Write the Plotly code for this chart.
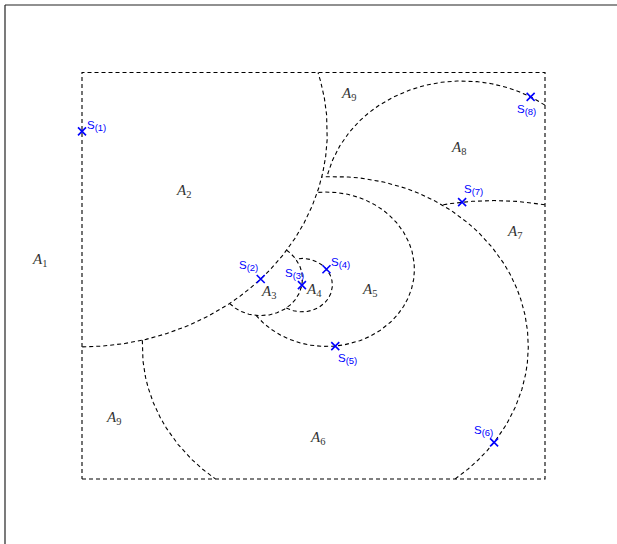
import numpy as np
import plotly.graph_objects as go

# Ordered sample points S_(1) ... S_(8) in the unit square
s_x = [0.000, 0.386, 0.475, 0.528, 0.547, 0.890, 0.821, 0.969]
s_y = [0.855, 0.492, 0.477, 0.516, 0.327, 0.090, 0.681, 0.940]
s_labels = ["S<sub><span style='font-size:9.5px'>(%d)</span></sub>" % (i + 1)
            for i in range(len(s_x))]

# Region labels A_1 ... A_9 (A_9 appears twice)
region_labels = ["A1", "A2", "A3", "A4", "A5", "A6", "A7", "A8", "A9", "A9"]
region_x = [-0.091, 0.220, 0.402, 0.502, 0.620, 0.508, 0.935, 0.814, 0.575, 0.069]
region_y = [0.539, 0.708, 0.460, 0.465, 0.465, 0.101, 0.608, 0.814, 0.948, 0.150]

# pixel offsets for the point labels: (xanchor, xshift, yshift)
label_offsets = [
    ("left", 3, 5),
    ("right", -1, 13),
    ("center", -7, 11),
    ("left", 3, 6),
    ("left", 1, -13),
    ("right", 1, 11),
    ("left", 0, 12),
    ("center", -4, -13),
]

DASH = "4px,3px"
fig = go.Figure()

# unit square
fig.add_trace(go.Scatter(
    x=[0, 1, 1, 0, 0], y=[0, 0, 1, 1, 0], mode="lines",
    line=dict(color="black", width=1.1, dash=DASH), hoverinfo="skip"))

# circle k: centred at S_(k), passing through S_(k+1); drawn only inside the
# square and outside all earlier disks
px_ = np.array(s_x)
py_ = np.array(s_y)
radii = np.hypot(np.diff(px_), np.diff(py_))
theta = np.linspace(0, 2 * np.pi, 6000, endpoint=False)
for k, r in enumerate(radii):
    cx = px_[k] + r * np.cos(theta)
    cy = py_[k] + r * np.sin(theta)
    keep = (cx >= 0) & (cx <= 1) & (cy >= 0) & (cy <= 1)
    for j in range(k):
        keep &= np.hypot(cx - px_[j], cy - py_[j]) > radii[j]
    if not keep.any():
        continue
    if not keep.all():
        shift = int(np.argmin(keep))
        cx, cy, keep = np.roll(cx, -shift), np.roll(cy, -shift), np.roll(keep, -shift)
    xs, ys = [], []
    prev = False
    for xv, yv, kv in zip(cx, cy, keep):
        if kv:
            xs.append(xv)
            ys.append(yv)
        elif prev:
            xs.append(None)
            ys.append(None)
        prev = kv
    fig.add_trace(go.Scatter(
        x=xs, y=ys, mode="lines",
        line=dict(color="black", width=1.1, dash=DASH), hoverinfo="skip"))

# sample points
fig.add_trace(go.Scatter(
    x=s_x, y=s_y, mode="markers",
    marker=dict(symbol="x-thin", size=8, line=dict(width=1.6, color="#0000ff")),
    hoverinfo="skip"))

for xv, yv, lab, (anc, dx, dy) in zip(s_x, s_y, s_labels, label_offsets):
    fig.add_annotation(
        x=xv, y=yv, text=lab, showarrow=False, xanchor=anc, yanchor="middle",
        xshift=dx, yshift=dy,
        font=dict(family="Liberation Sans, Arial, sans-serif", size=11.5, color="#0000ff"))

for xv, yv, lab in zip(region_x, region_y, region_labels):
    fig.add_annotation(
        x=xv, y=yv, text="<i>%s</i><sub>%s</sub>" % (lab[0], lab[1:]),
        showarrow=False, xanchor="center", yanchor="middle",
        font=dict(family="Liberation Serif, Times New Roman, serif", size=15, color="#333333"))

# outer frame (left and top edges)
fig.add_shape(type="line", xref="paper", yref="paper",
              x0=5 / 617, y0=0, x1=5 / 617, y1=1 - 5 / 544,
              line=dict(color="#222222", width=1.2))
fig.add_shape(type="line", xref="paper", yref="paper",
              x0=5 / 617, y0=1 - 5 / 544, x1=1, y1=1 - 5 / 544,
              line=dict(color="#222222", width=1.2))

fig.update_layout(
    width=617, height=544, autosize=False,
    margin=dict(l=0, r=0, t=0, b=0),
    paper_bgcolor="white", plot_bgcolor="white",
    showlegend=False,
    xaxis=dict(range=[-82 / 463, 535 / 463], visible=False, fixedrange=True),
    yaxis=dict(range=[-65 / 406.5, 479 / 406.5], visible=False, fixedrange=True),
)

fig.write_html("out.html")
